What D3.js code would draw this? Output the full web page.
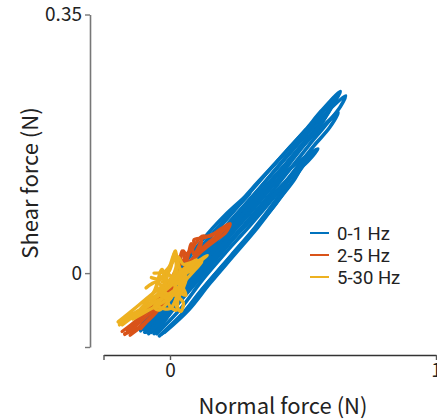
<!DOCTYPE html>
<html><head><meta charset="utf-8">
<script src="https://cdn.jsdelivr.net/npm/d3@7"></script>
<style>html,body{margin:0;padding:0;background:#fff;overflow:hidden}svg{display:block}</style>
</head><body>
<svg id="chart" width="437" height="420"></svg>
<script>
// ---- data (Normal force N, Shear force N) ----
const seriesNames = ["0-1 Hz", "2-5 Hz", "5-30 Hz"];
const xTicks = [-0.25, 0, 1];
const xTickLabels = ["", "0", "1"];
const yTicks = [-0.1, 0, 0.35];
const yTickLabels = ["", "0", "0.35"];

const blueLoops = [
  [[-0.11,-0.078],[-0.03,-0.04],[0.05,0.0],[0.13,0.04],[0.21,0.072],[0.29,0.105],[0.375,0.14],[0.45,0.17],[0.51,0.194],[0.57,0.22],[0.64,0.246],
   [0.62,0.232],[0.57,0.205],[0.50,0.175],[0.42,0.14],[0.33,0.10],[0.25,0.065],[0.16,0.03],[0.08,-0.005],[0.0,-0.045],[-0.08,-0.078]],
  [[-0.10,-0.076],[-0.02,-0.042],[0.06,-0.004],[0.14,0.035],[0.22,0.068],[0.30,0.10],[0.39,0.137],[0.46,0.166],[0.53,0.194],[0.59,0.218],[0.66,0.240],
   [0.64,0.225],[0.58,0.198],[0.52,0.172],[0.45,0.14],[0.36,0.10],[0.28,0.066],[0.19,0.03],[0.11,-0.005],[0.02,-0.045],[-0.07,-0.08]],
  [[-0.09,-0.08],[-0.015,-0.045],[0.07,-0.005],[0.16,0.036],[0.24,0.07],[0.32,0.102],[0.41,0.138],[0.48,0.165],[0.55,0.19],[0.632,0.217],
   [0.60,0.197],[0.54,0.172],[0.47,0.14],[0.385,0.10],[0.30,0.064],[0.21,0.028],[0.12,-0.01],[0.04,-0.048],[-0.05,-0.082]],
  [[-0.08,-0.082],[0.0,-0.045],[0.09,-0.005],[0.18,0.034],[0.26,0.068],[0.35,0.104],[0.43,0.135],[0.50,0.155],[0.556,0.168],
   [0.52,0.152],[0.46,0.132],[0.40,0.10],[0.32,0.062],[0.23,0.024],[0.14,-0.014],[0.06,-0.05],[-0.03,-0.082]],
  [[-0.06,-0.082],[0.02,-0.046],[0.11,-0.008],[0.20,0.03],[0.28,0.064],[0.37,0.10],[0.45,0.13],[0.534,0.164],
   [0.50,0.145],[0.44,0.115],[0.39,0.09],[0.30,0.052],[0.21,0.015],[0.12,-0.022],[0.04,-0.058],[-0.04,-0.085]],
  [[-0.10,-0.072],[-0.03,-0.035],[0.055,0.005],[0.14,0.045],[0.22,0.078],[0.31,0.115],[0.40,0.15],[0.47,0.178],[0.54,0.205],[0.60,0.227],
   [0.575,0.205],[0.51,0.18],[0.44,0.15],[0.36,0.115],[0.27,0.078],[0.19,0.042],[0.10,0.003],[0.02,-0.04],[-0.06,-0.076]],
  [[-0.05,-0.078],[0.03,-0.04],[0.12,0.0],[0.21,0.036],[0.30,0.07],[0.39,0.105],[0.46,0.132],[0.50,0.15],
   [0.47,0.128],[0.41,0.10],[0.33,0.062],[0.24,0.024],[0.15,-0.014],[0.07,-0.05],[-0.02,-0.08]],
  [[-0.115,-0.075],[-0.04,-0.035],[0.04,0.006],[0.12,0.044],[0.20,0.076],[0.30,0.108],
   [0.26,0.092],[0.18,0.06],[0.10,0.026],[0.02,-0.016],[-0.07,-0.065]],
  [[-0.095,-0.08],[-0.01,-0.038],[0.08,0.004],[0.17,0.044],[0.25,0.078],[0.34,0.116],[0.43,0.155],[0.50,0.185],[0.56,0.212],[0.62,0.238],
   [0.60,0.22],[0.54,0.19],[0.47,0.158],[0.39,0.12],[0.31,0.085],[0.22,0.048],[0.14,0.012],[0.05,-0.028],[-0.03,-0.07]]
];

const orangeLoops = [
  [[-0.18,-0.079],[-0.12,-0.062],[-0.06,-0.04],[-0.01,-0.018],[0.03,0.008],[0.05,0.03],[0.06,0.026],[0.10,0.042],[0.12,0.05],[0.15,0.05],[0.195,0.061],[0.226,0.067],
   [0.21,0.055],[0.17,0.044],[0.124,0.031],[0.083,0.017],[0.049,0.004],[0.0,-0.03],[-0.06,-0.056],[-0.12,-0.074],[-0.17,-0.082]],
  [[-0.16,-0.078],[-0.10,-0.058],[-0.04,-0.032],[0.02,0.002],[0.06,0.022],[0.09,0.037],[0.09,0.045],[0.13,0.048],[0.18,0.056],[0.215,0.063],
   [0.19,0.054],[0.14,0.04],[0.10,0.025],[0.06,0.01],[0.01,-0.02],[-0.05,-0.05],[-0.11,-0.075]],
  [[0.03,0.0],[0.045,0.03],[0.06,0.015],[0.08,0.04],[0.09,0.025],[0.12,0.045],[0.11,0.03]],
  [[-0.17,-0.083],[-0.11,-0.066],[-0.05,-0.045],[0.0,-0.022],[-0.04,-0.048],[-0.10,-0.07],[-0.15,-0.084]]
];

const yellowLoops = [
  [[-0.195,-0.066],[-0.14,-0.05],[-0.08,-0.032],[-0.03,-0.018],[0.02,-0.004],[0.08,0.01],[0.14,0.024],
   [0.10,0.012],[0.04,-0.006],[-0.02,-0.024],[-0.09,-0.044],[-0.15,-0.058],[-0.19,-0.07]],
  [[-0.18,-0.07],[-0.12,-0.054],[-0.06,-0.04],[-0.01,-0.03],[0.03,-0.02],[-0.02,-0.038],[-0.08,-0.05],[-0.14,-0.062]],
  [[-0.07,-0.006],[-0.03,-0.008],[0.0,0.005],[0.02,0.03],[0.03,0.0],[0.06,-0.005],[0.05,-0.02],[0.03,-0.035],[0.025,-0.05],
   [0.0,-0.045],[-0.02,-0.03],[-0.05,-0.02],[-0.03,-0.005],[0.01,-0.015],[0.04,-0.01],[0.08,0.012]],
  [[-0.10,-0.04],[-0.05,-0.03],[-0.02,-0.015],[0.0,0.01],[0.02,0.028],[0.035,0.008],[0.05,0.0],[0.09,0.006],[0.12,0.015],
   [0.07,-0.005],[0.03,-0.02],[-0.01,-0.04],[-0.04,-0.05],[-0.06,-0.046],[-0.03,-0.035],[0.01,-0.025]],
  [[-0.04,-0.01],[-0.01,0.0],[0.02,-0.012],[0.04,0.005],[0.03,-0.025],[0.0,-0.03],[-0.03,-0.02],[0.0,-0.01],[0.04,-0.018],
   [0.02,-0.04],[0.04,-0.052],[0.05,-0.04],[0.02,-0.03]],
  [[-0.06,0.0],[-0.02,0.002],[0.01,0.015],[0.03,0.022],[0.05,0.012],[0.09,0.015],[0.05,0.0],[0.01,-0.008],[-0.03,-0.012]],
  [[-0.09,-0.02],[-0.05,-0.012],[-0.02,-0.02],[0.01,-0.005],[0.03,0.015],[0.02,-0.02],[0.06,-0.03],[0.03,-0.012],[0.0,-0.035],[-0.04,-0.03],[-0.07,-0.035]],
  [[-0.11,-0.048],[-0.06,-0.025],[-0.03,0.005],[-0.01,-0.02],[0.02,-0.008],[0.05,0.005],[0.10,0.018],[0.06,0.0],[0.03,-0.028],[0.0,-0.048],[-0.05,-0.045]]
];

const colors = ["#0072BD", "#D95319", "#EDB120"];
const allSeries = [blueLoops, orangeLoops, yellowLoops];
const widths = [3.6, 3.3, 3.4];

// ---- drawing ----
const svg = d3.select("#chart");
const FONT = "'Noto Sans CJK JP', 'Noto Sans', sans-serif";
const x = d3.scaleLinear().domain([-0.25, 1]).range([103.5, 436]);
const y = d3.scaleLinear().domain([-0.1, 0.35]).range([347, 14.5]);

const line = d3.line().x(d => x(d[0])).y(d => y(d[1])).curve(d3.curveCatmullRom.alpha(0.5));

allSeries.forEach((loops, i) => {
  svg.append("g").selectAll("path").data(loops).join("path")
    .attr("d", line)
    .attr("fill", "none")
    .attr("stroke", colors[i])
    .attr("stroke-width", widths[i])
    .attr("stroke-linejoin", "round")
    .attr("stroke-linecap", "round");
});

// y axis
const yAxis = svg.append("g").attr("transform", "translate(90,0)")
  .call(d3.axisLeft(y).tickValues(yTicks).tickFormat((d, i) => yTickLabels[i]).tickSize(5).tickSizeOuter(0));
yAxis.select(".domain").attr("stroke", "#777").attr("stroke-width", 1.6);
yAxis.selectAll(".tick line").attr("stroke", "#777").attr("stroke-width", 1.4);
yAxis.selectAll(".tick text").attr("font-family", FONT).attr("font-size", 19).attr("fill", "#222").attr("x", -8);

// x axis
const xAxis = svg.append("g").attr("transform", "translate(0,355)")
  .call(d3.axisBottom(x).tickValues(xTicks).tickFormat((d, i) => xTickLabels[i]).tickSize(5).tickSizeOuter(0));
xAxis.select(".domain").attr("stroke", "#333").attr("stroke-width", 1.4);
xAxis.selectAll(".tick line").attr("stroke", "#555").attr("stroke-width", 1.4);
xAxis.selectAll(".tick text").attr("font-family", FONT).attr("font-size", 19).attr("fill", "#222").attr("y", 9);

// axis titles
svg.append("text").attr("x", 283).attr("y", 414).attr("text-anchor", "middle")
  .attr("font-family", FONT).attr("font-size", 22).attr("fill", "#222").text("Normal force (N)");
svg.append("text").attr("transform", "translate(38,183) rotate(-90)").attr("text-anchor", "middle")
  .attr("font-family", FONT).attr("font-size", 22).attr("fill", "#222").text("Shear force (N)");

// legend
const leg = svg.append("g");
seriesNames.forEach((name, i) => {
  const yy = 233 + i * 22;
  leg.append("line").attr("x1", 310).attr("x2", 329).attr("y1", yy).attr("y2", yy)
    .attr("stroke", colors[i]).attr("stroke-width", 2);
  leg.append("text").attr("x", 337).attr("y", yy).attr("dy", "0.36em")
    .attr("font-family", "Roboto, 'Noto Sans', sans-serif").attr("font-size", 18.5).attr("fill", "#222").text(name);
});
</script>
</body></html>
